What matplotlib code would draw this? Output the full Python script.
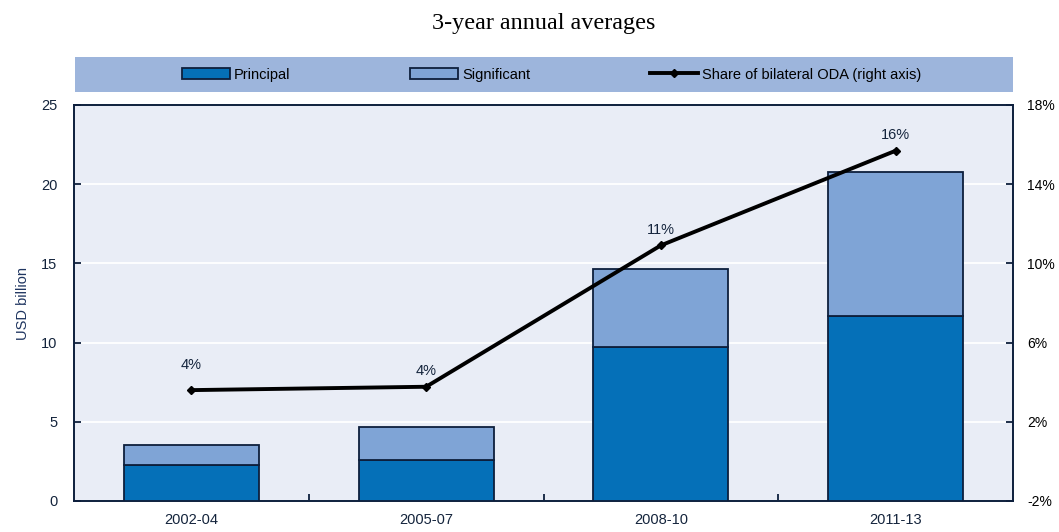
import numpy as np
import matplotlib
matplotlib.use("Agg")
import matplotlib.pyplot as plt
from matplotlib.patches import Rectangle
from matplotlib.ticker import FixedLocator

# 3-year averages of aid (USD billion) and share of bilateral ODA
periods = ["2002-04", "2005-07", "2008-10", "2011-13"]
principal = [2.27, 2.59, 9.74, 11.68]
significant = [1.25, 2.10, 4.89, 9.07]
share = [3.60, 3.77, 10.91, 15.69]
share_labels = ["4%", "4%", "11%", "16%"]

c_principal = "#0570b8"
c_significant = "#7fa4d6"
c_edge = "#0d1f3c"
c_bg = "#e9edf6"
c_band = "#9db5dc"
c_text = "#14243c"

plt.rcParams["font.family"] = ["Liberation Sans", "DejaVu Sans"]

fig = plt.figure(figsize=(10.59, 5.32), dpi=100)
ax = fig.add_axes([74 / 1059, 31 / 532, 939 / 1059, 396 / 532])
ax.set_facecolor(c_bg)

x = np.arange(len(periods))
w = 0.575
ax.bar(x, principal, w, color=c_principal, edgecolor=c_edge, linewidth=1.3,
       label="Principal", zorder=3)
ax.bar(x, significant, w, bottom=principal, color=c_significant,
       edgecolor=c_edge, linewidth=1.3, label="Significant", zorder=3)

ax.set_xlim(-0.5, len(periods) - 0.5)
ax.set_ylim(0, 25)
ax.set_yticks([0, 5, 10, 15, 20, 25])
ax.set_xticks(x)
ax.set_xticklabels(periods, fontsize=10.5, color=c_text)
ax.xaxis.set_minor_locator(FixedLocator(x[:-1] + 0.5))
ax.tick_params(axis="x", which="major", length=0, pad=9)
ax.tick_params(axis="x", which="minor", direction="in", length=5, width=1.3,
               color=c_edge)
ax.tick_params(axis="y", direction="in", length=5, width=1.3, color=c_edge,
               labelsize=10.5, labelcolor=c_text, pad=12)
ax.set_ylabel("USD billion", fontsize=10.5, color="#1f3560", labelpad=8)
ax.grid(axis="y", color="white", linewidth=1.3, zorder=1)
ax.set_axisbelow(True)
for s in ax.spines.values():
    s.set_color(c_edge)
    s.set_linewidth(1.4)

ax2 = ax.twinx()
ax2.set_ylim(-2, 18)
ax2.set_yticks([-2, 2, 6, 10, 14, 18])
ax2.set_yticklabels([f"{v}%" for v in [-2, 2, 6, 10, 14, 18]])
ax2.tick_params(axis="y", direction="in", length=5, width=1.3, color=c_edge,
                labelsize=10, pad=10)
for s in ax2.spines.values():
    s.set_visible(False)
ax2.plot(x, share, color="black", linewidth=2.8, marker="D", markersize=4.5,
         label="Share of bilateral ODA (right axis)", zorder=4)
label_lift = [13, 6, 6, 6]
for xi, v, t, dy in zip(x, share, share_labels, label_lift):
    ax2.annotate(t, (xi, v), xytext=(0, dy), textcoords="offset points",
                 ha="center", va="bottom", fontsize=10.5, color=c_text)

# legend band above the plot
fig.patches.append(Rectangle((75 / 1059, 1 - 92 / 532), 938 / 1059, 35 / 532,
                             transform=fig.transFigure, facecolor=c_band,
                             edgecolor="none", zorder=0))
h1, l1 = ax.get_legend_handles_labels()
h2, l2 = ax2.get_legend_handles_labels()
fig.legend(h1 + h2, l1 + l2, loc="center", ncol=3, frameon=False,
           bbox_to_anchor=(0.521, 1 - 74.5 / 532), fontsize=10.5,
           handlelength=3.3, handleheight=0.8, handletextpad=0.27,
           columnspacing=8.2)

fig.text(0.513, 1 - 24 / 532, "3-year annual averages", ha="center",
         va="center", fontsize=17.4, family=["Liberation Serif", "DejaVu Serif"])

fig.savefig("out.png", dpi=100)
